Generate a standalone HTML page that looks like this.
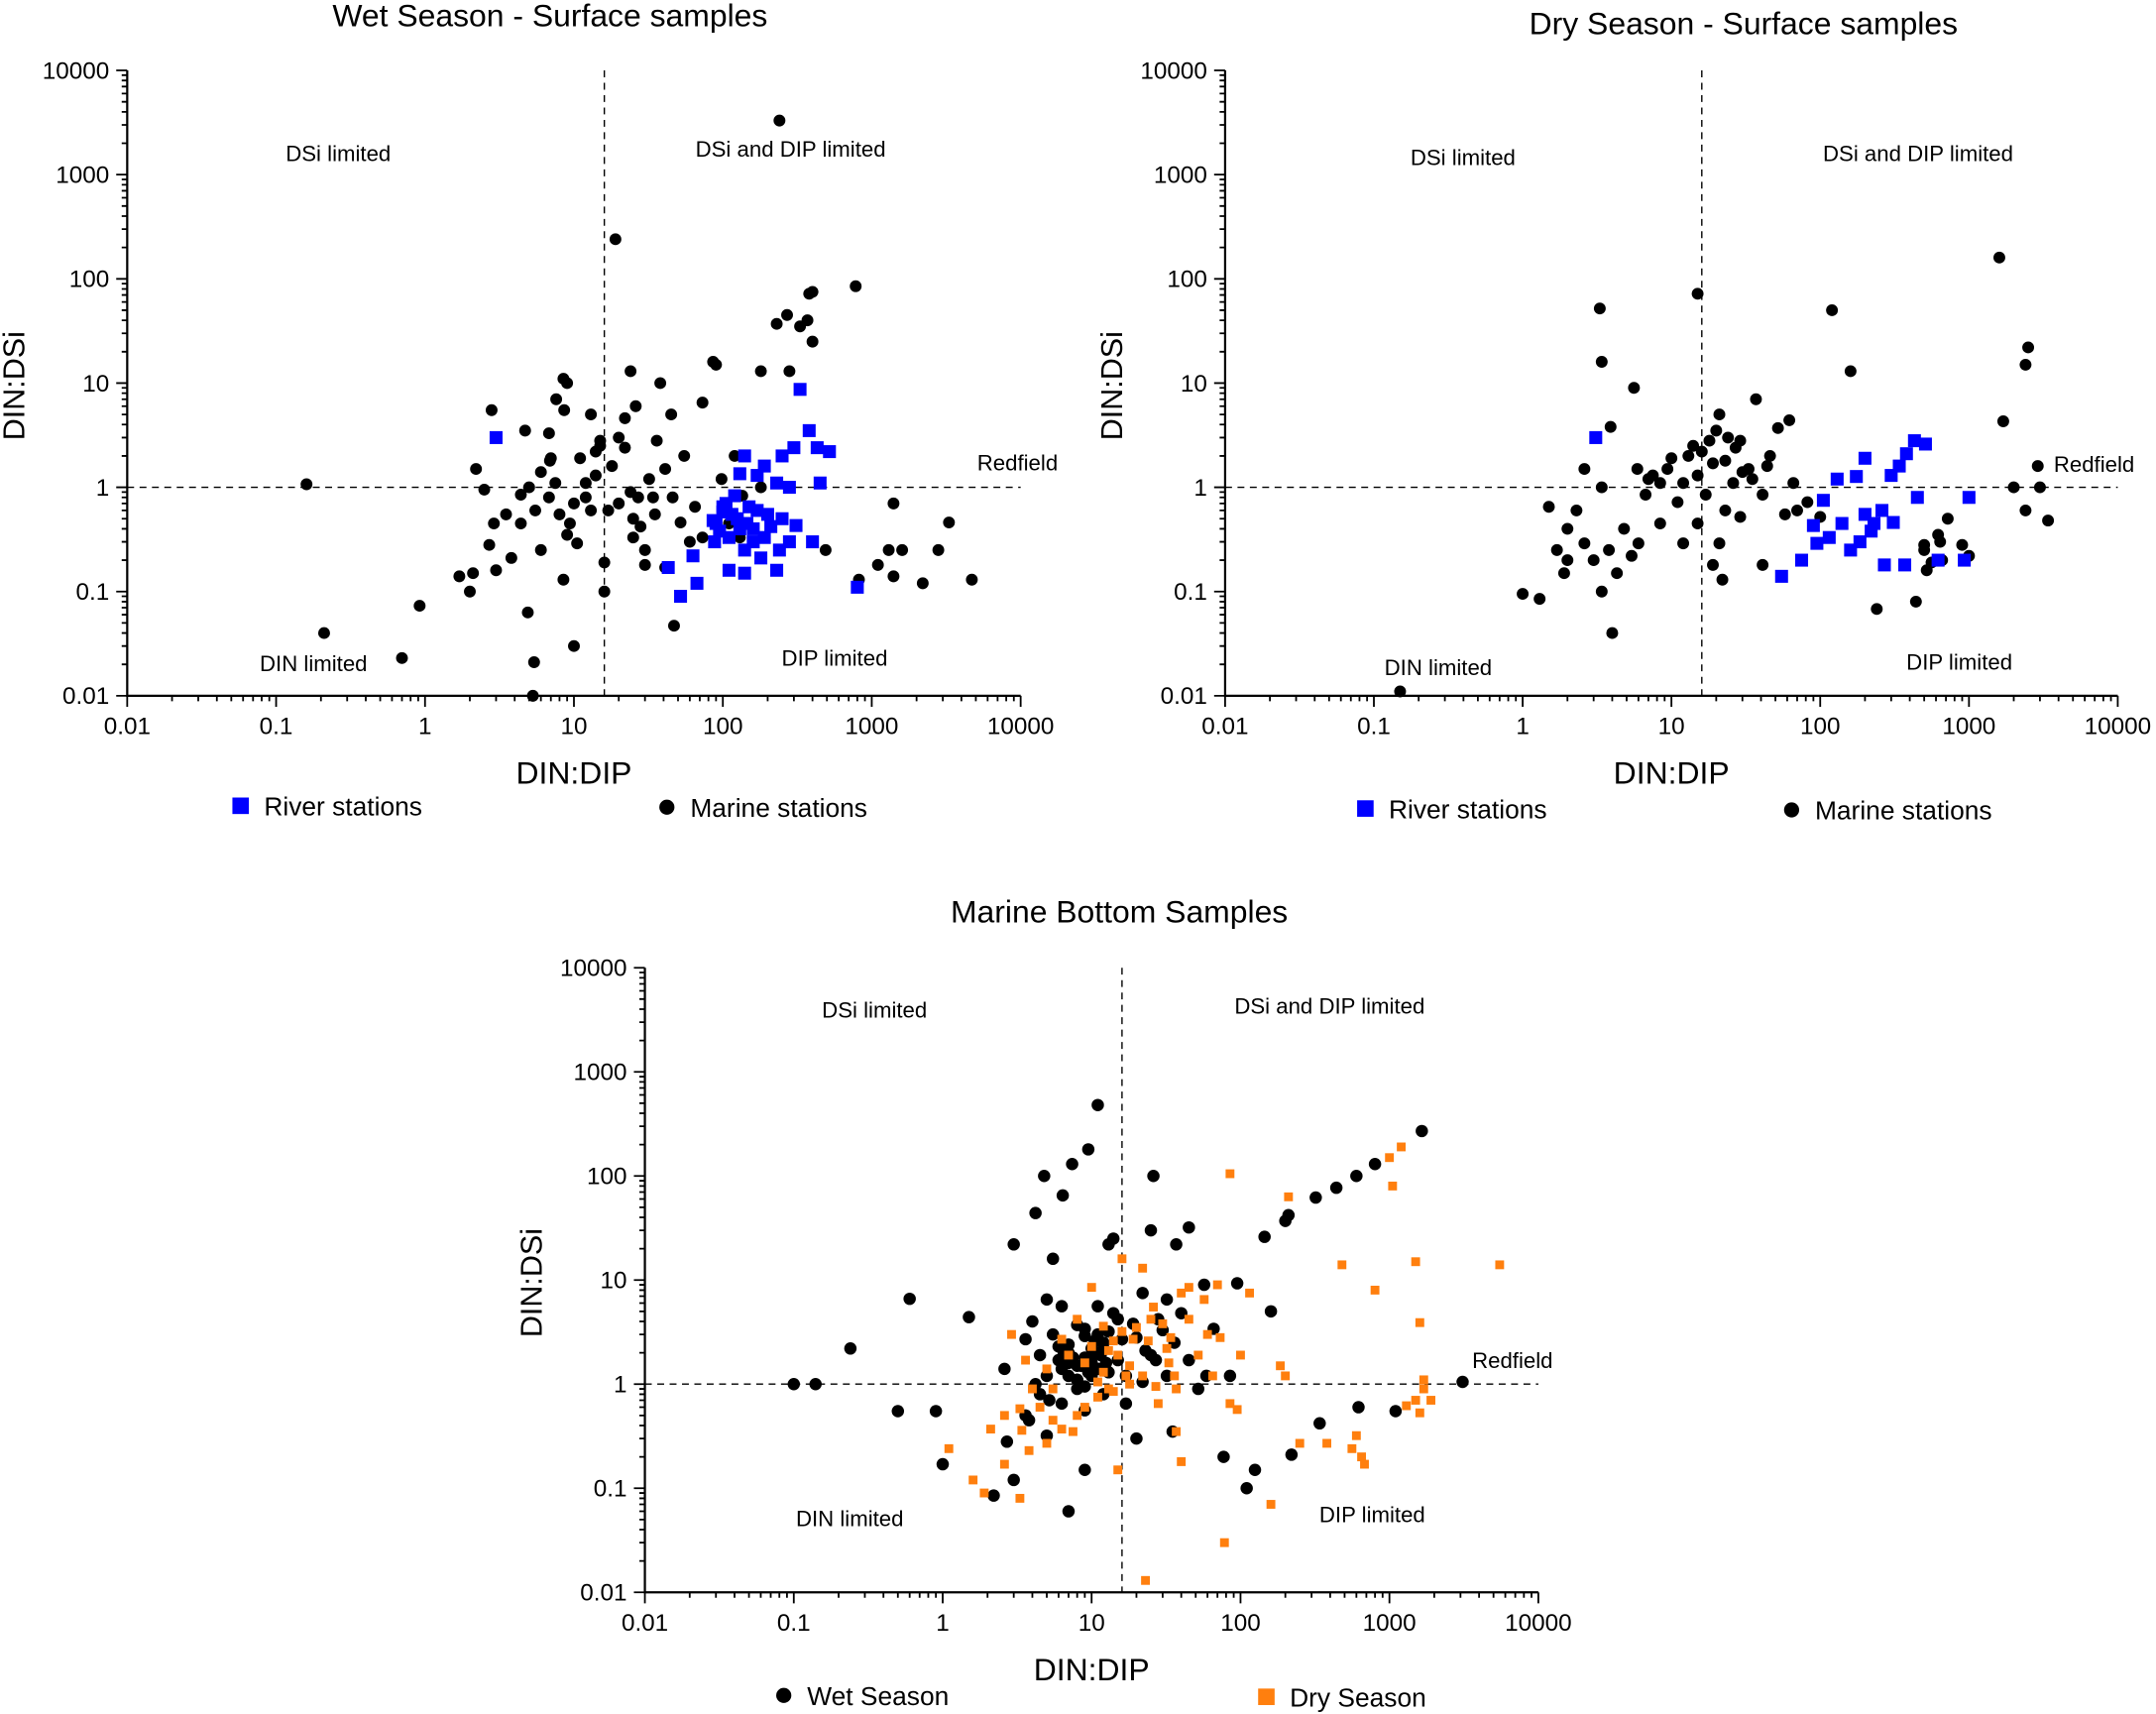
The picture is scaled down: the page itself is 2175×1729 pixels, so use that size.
<!DOCTYPE html>
<html><head><meta charset="utf-8"><style>
html,body{margin:0;padding:0;background:#fff;}
svg{display:block;font-family:"Liberation Sans",Arial,sans-serif;}
</style></head><body>
<svg id="fig" width="2175" height="1729" viewBox="0 0 1568 1246.5" xmlns="http://www.w3.org/2000/svg"></svg>
<script>
// ---- data (DIN:DIP, DIN:DSi) ----
const wetRiverX=[3,43,52,67,63,100,130,140,170,190,230,250,280,300,330,380,430,520,450,400,800,90,100,110,125,140,160,170,190,230,250,280,310,110,140,180,88,86,120,150,240,95,105,115,130,145,160,200,210];
const wetRiverY=[3,0.17,0.09,0.12,0.22,0.65,1.35,2,1.3,1.6,1.1,2,1,2.4,8.7,3.5,2.4,2.2,1.1,0.3,0.11,0.45,0.58,0.33,0.5,0.25,0.4,0.6,0.33,0.16,0.5,0.3,0.43,0.16,0.15,0.21,0.3,0.48,0.83,0.65,0.25,0.38,0.7,0.55,0.4,0.45,0.3,0.55,0.42];
const wetMarineX=[0.16,0.21,0.7,0.92,2.8,2.2,2.5,1.7,2.0,2.1,2.7,3.0,3.8,4.7,4.9,5.4,5.3,4.4,5.5,6,6.8,6.9,7.6,8.5,9,8.6,9.4,10,8.5,10.5,12,13,14,16,16,15,19,20,22,24,25,26,30,34,36,38,41,45,47,52,55,65,73,86,90,98,120,130,180,230,270,280,240,330,380,400,370,400,490,780,1400,1100,1300,1400,1600,820,2200,3300,2800,4700,6,4.4,12,17,27,46,73,30,2.9,6.8,22,41,135,180,110,7,8,11,14,18,24,32,9,13,5,20,28,35,60,3.5,7.5,10,15,25];
const wetMarineY=[1.07,0.04,0.023,0.073,5.5,1.5,0.95,0.14,0.1,0.15,0.28,0.16,0.21,3.5,0.063,0.021,0.01,0.45,0.6,1.4,0.8,1.8,7,11,10,5.5,0.45,0.03,0.13,0.29,0.8,5,1.3,0.1,0.19,2.8,240,0.7,2.4,13,0.33,6,0.25,0.8,2.8,10,1.5,5,0.047,0.46,2,0.65,6.5,16,15,1.2,2,0.33,13,37,45,13,3300,35,72,75,40,25,0.25,85,0.7,0.18,0.25,0.14,0.25,0.13,0.12,0.46,0.25,0.13,0.25,0.85,1.1,0.6,0.8,0.8,0.33,0.18,0.45,3.3,4.6,0.17,0.83,1.0,0.45,1.9,0.55,1.9,2.2,1.6,0.9,1.2,0.35,0.6,1.0,3,0.42,0.55,0.3,0.55,1.1,0.7,2.5,0.5];
const dryRiverX=[3.1,55,75,90,105,130,175,200,230,260,300,340,380,430,510,450,1000,930,620,370,270,115,140,160,185,220,95,310,200];
const dryRiverY=[3,0.14,0.2,0.43,0.75,1.2,1.27,1.9,0.45,0.6,1.3,1.6,2.1,2.8,2.6,0.8,0.8,0.2,0.2,0.18,0.18,0.33,0.45,0.25,0.3,0.38,0.29,0.46,0.55];
const dryMarineX=[0.15,1.0,1.3,1.5,3.3,3.4,4.0,3.9,5.6,15,19,22,62,120,160,240,440,1600,2500,2400,1700,2900,3400,2400,3000,2000,2.0,2.3,2.6,1.9,3.0,3.4,3.8,4.3,4.8,5.4,6,6.7,7.5,8.4,9.4,11,12,13,15,17,18,21,23,26,29,33,37,41,46,52,58,66,82,100,3.4,5.9,8.4,12,15,21,29,41,2.6,2,23,1.7,500,560,640,720,620,520,900,1000,500,660,16,19,24,27,35,14,20,30,44,70,10,7];
const dryMarineY=[0.011,0.095,0.085,0.65,52,16,0.04,3.8,9,72,0.18,0.13,4.4,50,13,0.068,0.08,160,22,15,4.3,1.6,0.48,0.6,1.0,1.0,0.4,0.6,0.29,0.15,0.2,0.1,0.25,0.15,0.4,0.22,0.29,0.85,1.3,0.45,1.5,0.72,1.1,2,1.3,0.85,2.8,5,1.8,1.1,2.8,1.5,7,0.85,2,3.7,0.55,1.1,0.72,0.52,1.0,1.5,1.1,0.29,0.45,0.29,0.52,0.18,1.5,0.2,0.6,0.25,0.25,0.19,0.3,0.5,0.35,0.16,0.28,0.22,0.28,0.2,2.2,1.7,3,2.4,1.2,2.5,3.5,1.4,1.6,0.6,1.9,1.2];
const botWetX=[0.1,0.14,0.24,0.5,0.6,0.9,1.0,1.5,2.2,3.0,4.2,4.8,7.4,6.4,5.5,9.5,11,13,14,20,26,25,45,37,57,95,145,160,200,210,320,440,600,800,1650,3100,1100,620,340,220,125,110,77,7,9,5,3,2.7,2.6,3.6,35,4,4.5,5,5.5,6.3,7,8,9,10,11,12,14,15,17,20,22,25,28,32,36,40,45,52,66,85,3.6,4.5,6.3,9,12,17,6.3,10,15,22,11,5,32,59,7,8,9,10,12,13,6,7,8,11,6.5,7.5,8.5,9.5,10.5,11.5,12.5,7,8,9,10,6,5.2,4.2,3.8,13,16,19,23,27,30,8,9,10,11];
const botWetY=[1,1,2.2,0.55,6.6,0.55,0.17,4.4,0.085,22,44,100,130,65,16,180,480,22,25,0.3,100,30,32,22,9,9.3,26,5,37,42,62,77,100,130,270,1.05,0.55,0.6,0.42,0.21,0.15,0.1,0.2,0.06,0.15,0.32,0.12,0.28,1.4,2.7,0.35,4,1.9,1.2,3,5.6,1.6,0.9,3.4,1.9,1.4,2.5,4.8,1.7,1.2,2.8,7.5,1.9,4.2,1.2,2.5,4.8,1.7,0.9,3.4,1.2,0.5,0.8,0.65,0.56,0.8,0.65,1.4,1.2,4.2,1.05,5.6,6.5,6.5,1.2,2,1.5,1.8,1.6,2.2,1.3,1.7,2.4,1.1,1.4,2.0,1.8,1.5,1.3,2.6,1.9,1.6,1.2,1.1,0.95,1.5,2.3,0.7,1.0,0.45,3.2,2.7,3.8,2.1,1.7,3.3,3.7,2.9,2.2,3.0];
const botDryX=[1.1,1.6,1.9,3.3,2.6,3.4,3.8,5,6.3,8,16,15,23,40,78,85,160,210,200,185,480,800,1000,1200,1500,1600,5500,1050,600,650,560,680,1700,1900,1600,1300,1500,1700,250,380,100,115,70,57,45,40,36,37,28,22,19,15,12,10,8,6.3,5,4,3.3,2.9,3.6,5.5,11,17,25,32,52,65,85,95,73,2.1,2.6,45,10,22,37,9,13,18,7,14,12,14,16,20,24,30,11,13,18,26,34,60,4.5,5.5,7.5,9,27,33];
const botDryY=[0.24,0.12,0.09,0.08,0.17,0.36,0.23,0.27,0.37,0.5,16,0.15,0.013,0.18,0.03,105,0.07,63,1.2,1.5,14,8,150,190,15,3.9,14,80,0.32,0.2,0.24,0.17,0.9,0.7,0.53,0.62,0.7,1.1,0.27,0.27,1.9,7.5,9,6.5,4.2,7.5,1.2,0.9,0.65,1.2,2.7,1.9,3.6,2.3,4.2,2.7,1.4,0.9,0.58,3,1.7,0.9,1.05,1.2,4.2,2.2,1.9,1.2,0.65,0.57,2.8,0.37,0.5,8.5,8.5,13,0.35,1.6,2.1,1.5,1.9,2.6,1.3,0.85,3.2,3.5,2.6,3.8,0.75,0.9,1.0,5.5,2.8,3,0.6,0.45,0.35,0.6,0.95,1.6];
const tickLabels=["0.01","0.1","1","10","100","1000","10000"];
const decades=[0.01,0.1,1,10,100,1000,10000];

const NS="http://www.w3.org/2000/svg";
const svg=document.getElementById('fig');
function mk(tag,attrs,parent){const e=document.createElementNS(NS,tag);for(const k in attrs)e.setAttribute(k,attrs[k]);(parent||svg).appendChild(e);return e;}
function txt(s,x,y,size,anchor,parent,rot){const t=mk('text',{x:x,y:y,'font-size':size,'text-anchor':anchor||'middle',fill:'#000'},parent);if(rot)t.setAttribute('transform',rot);t.textContent=s;return t;}

function panel(cfg){
  const g=mk('g',{});
  
  
  const sx=v=>cfg.x0+(Math.log10(v)+2)*cfg.dx;
  const sy=v=>cfg.y0-(Math.log10(v)+2)*cfg.dy;
  const xr=sx(10000), yt=sy(10000);
  const ax=mk('path',{d:`M${cfg.x0},${yt}V${cfg.y0}H${xr}`,stroke:'#000','stroke-width':1.6,fill:'none'},g);
  
  
  let d='';
  for(let i=0;i<7;i++){
    const v=decades[i];
    d+=`M${sx(v)},${cfg.y0}v8 M${cfg.x0},${sy(v)}h-8 `;
    if(i<6)for(let m=2;m<10;m++){d+=`M${sx(v*m)},${cfg.y0}v4 M${cfg.x0},${sy(v*m)}h-4 `;}
    const xl=txt(tickLabels[i],sx(v),cfg.y0+28,17.5,'middle',g);
    
    
    const yl=txt(tickLabels[i],cfg.x0-13,sy(v)+6,17.5,'end',g);
    
    
  }
  mk('path',{d:d,stroke:'#000','stroke-width':1.3},g);
  const vl=mk('line',{x1:sx(16),x2:sx(16),y1:yt,y2:cfg.y0,stroke:'#000','stroke-width':1,'stroke-dasharray':'5,4'},g);
  
  
  const hl=mk('line',{x1:cfg.x0,x2:xr,y1:sy(1),y2:sy(1),stroke:'#000','stroke-width':1,'stroke-dasharray':'5,4'},g);
  
  
  cfg.series.forEach(s=>{
    const sg=mk('g',{},g);
    
    
    s.xs.forEach((xv,i)=>{
      const px=sx(xv),py=sy(s.ys[i]);
      let e;
      if(s.shape==='circle')e=mk('circle',{cx:px,cy:py,r:s.size,fill:s.color},sg);
      else e=mk('rect',{x:px-s.size,y:py-s.size,width:2*s.size,height:2*s.size,fill:s.color},sg);
      
      
    });
  });
  const t=txt(cfg.title,cfg.titleX,cfg.titleY,23,'middle',g);
  
  
  const xt=txt('DIN:DIP',sx(10),cfg.y0+64,23,'middle',g);
  
  
  const yx=cfg.x0-75, yy=sy(10)+2;
  const ytt=txt('DIN:DSi',yx,yy,22,'middle',g,`rotate(-90 ${yx} ${yy})`);
  
  
  cfg.notes.forEach(n=>{const e=txt(n[0],n[1],n[2],16,'middle',g);
    
    });
  cfg.legend.forEach(l=>{
    const lg=mk('g',{},g);
    
    
    if(l.shape==='circle')mk('circle',{cx:l.x,cy:l.y,r:5.5,fill:l.color},lg);
    else mk('rect',{x:l.x-6,y:l.y-6,width:12,height:12,fill:l.color},lg);
    txt(l.label,l.x+17,l.y+7,19,'start',lg);
  });
}

panel({name:'wet-season-panel',x0:92.5,y0:506,dx:108.3,dy:75.8,title:'Wet Season - Surface samples',titleX:400,titleY:19,
  series:[{name:'marine-stations-series',xs:wetMarineX,ys:wetMarineY,shape:'circle',size:4.3,color:'#000'},
          {name:'river-stations-series',xs:wetRiverX,ys:wetRiverY,shape:'rect',size:4.7,color:'#0000ff'}],
  notes:[['DSi limited',246,117],['DSi and DIP limited',575,114],['Redfield',740,342],['DIN limited',228,488],['DIP limited',607,484]],
  legend:[{x:175,y:586,shape:'rect',color:'#0000ff',label:'River stations'},{x:485,y:587,shape:'circle',color:'#000',label:'Marine stations'}]});
panel({name:'dry-season-panel',x0:891,y0:506,dx:108.2,dy:75.8,title:'Dry Season - Surface samples',titleX:1268,titleY:25,
  series:[{name:'marine-stations-series',xs:dryMarineX,ys:dryMarineY,shape:'circle',size:4.3,color:'#000'},
          {name:'river-stations-series',xs:dryRiverX,ys:dryRiverY,shape:'rect',size:4.7,color:'#0000ff'}],
  notes:[['DSi limited',1064,120],['DSi and DIP limited',1395,117],['Redfield',1523,343],['DIN limited',1046,491],['DIP limited',1425,487]],
  legend:[{x:993,y:588,shape:'rect',color:'#0000ff',label:'River stations'},{x:1303,y:589,shape:'circle',color:'#000',label:'Marine stations'}]});
panel({name:'bottom-samples-panel',x0:469,y0:1158,dx:108.3,dy:75.7,title:'Marine Bottom Samples',titleX:814,titleY:671,
  series:[{name:'wet-season-series',xs:botWetX,ys:botWetY,shape:'circle',size:4.5,color:'#000'},
          {name:'dry-season-series',xs:botDryX,ys:botDryY,shape:'rect',size:3.2,color:'#ff7f0e'}],
  notes:[['DSi limited',636,740],['DSi and DIP limited',967,737],['Redfield',1100,995],['DIN limited',618,1110],['DIP limited',998,1107]],
  legend:[{x:570,y:1233,shape:'circle',color:'#000',label:'Wet Season'},{x:921,y:1234,shape:'rect',color:'#ff7f0e',label:'Dry Season'}]});
</script>
</body></html>
